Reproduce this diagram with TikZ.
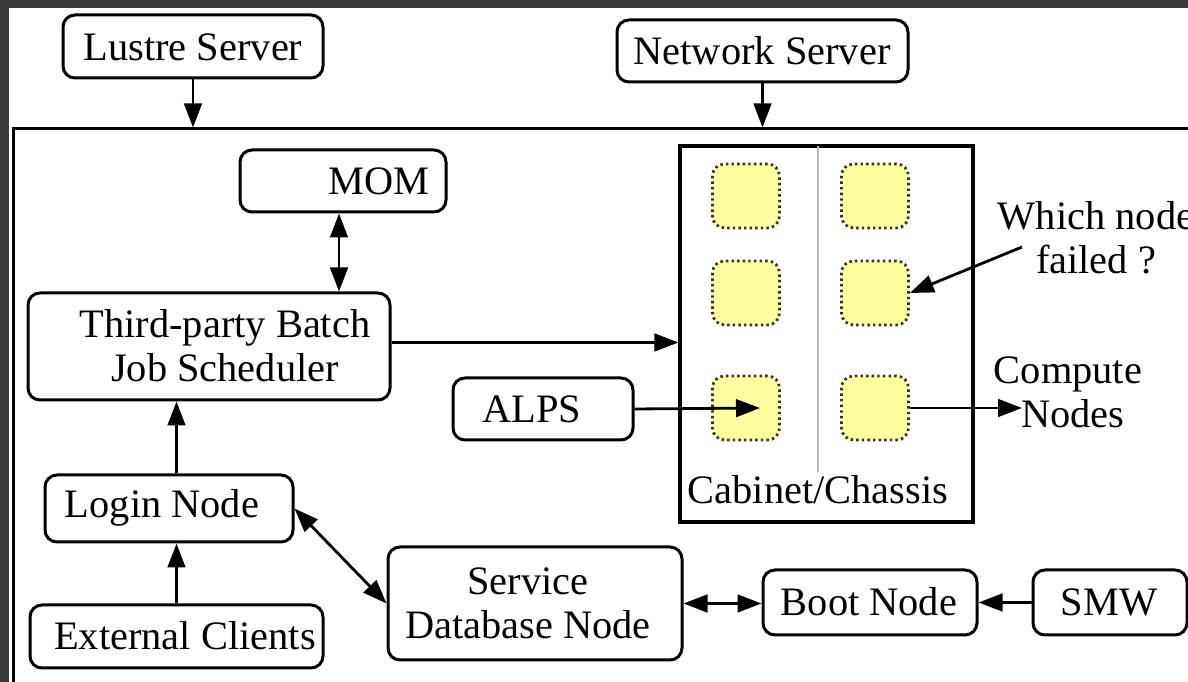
\documentclass[tikz,border=0pt]{standalone}
\usepackage{fontspec}
\setmainfont{Liberation Serif}
\usetikzlibrary{arrows.meta,fit}
\definecolor{darkbg}{RGB}{58,58,58}
\definecolor{sqfill}{RGB}{255,255,160}
\definecolor{sqline}{RGB}{50,50,30}
\definecolor{divline}{RGB}{185,185,185}
\begin{document}
\begin{tikzpicture}[x=0.25pt,y=-0.25pt,
  every node/.style={font=\fontsize{10.1}{11}\selectfont},
  box/.style={draw, line width=0.75pt, rounded corners=3pt, inner sep=0pt},
  plainbox/.style={draw, line width=0.75pt, inner sep=0pt},
  txt/.style={inner sep=0pt, align=center},
  sq/.style={draw=sqline, fill=sqfill, line width=0.7pt, dash pattern=on 0.6pt off 0.8pt,
    rounded corners=3pt, minimum width=16.75pt, minimum height=16pt, inner sep=0pt},
  arr/.style={line width=0.7pt, -{Triangle[length=6pt,width=4.4pt]}},
  darr/.style={line width=0.7pt, {Triangle[length=6pt,width=4.4pt]}-{Triangle[length=6pt,width=4.4pt]}}]
\useasboundingbox (0,0) rectangle (1188,682);
\clip (0,0) rectangle (1188,682);
\fill[darkbg] (0,0) rectangle (1188,682);
\fill[white] (9,8) rectangle (1188,682);
% outer frame
\node[plainbox, fit={(13,129) (1215,710)}] (frame) {};
% top servers
\node[box, fit={(63,15) (323,78)}] (lustre) {};
\node[txt] at (193,47) {Lustre Server};
\node[box, fit={(617,20) (908,82)}] (network) {};
\node[txt] at (762,51) {Network Server};
% left column
\node[box, fit={(240,150) (446,212)}] (mom) {};
\node[txt] at (379,181) {MOM};
\node[box, fit={(28,293) (390,400)}] (sched) {};
\node[txt] at (225,346) {Third-party Batch\\Job Scheduler};
\node[box, fit={(45,475) (293,542)}] (login) {};
\node[txt] at (162,508) {Login Node};
\node[box, fit={(30,605) (323,668)}] (ext) {};
\node[txt] at (185,636) {External Clients};
% bottom row
\node[box, fit={(388,547) (682,660)}] (service) {};
\node[txt] at (528,603) {Service\\Database Node};
\node[box, fit={(763,570) (977,635)}] (boot) {};
\node[txt] at (869,602) {Boot Node};
\node[box, fit={(1033,570) (1187,635)}] (smw) {};
\node[txt] at (1109,602) {SMW};
% ALPS
\node[box, fit={(453,378) (633,440)}] (alps) {};
\node[txt] at (532,409) {ALPS};
% cabinet
\node[plainbox, line width=0.8pt, fit={(680,146) (973,522)}] (cab) {};
\draw[divline, line width=0.35pt] (818,146) -- (818,472);
\node[txt] at (818,490) {Cabinet/Chassis};
\node[sq] (s11) at (746,196) {};
\node[sq] (s12) at (875,196) {};
\node[sq] (s21) at (746,293) {};
\node[sq] (s22) at (875,293) {};
\node[sq] (s31) at (746,408) {};
\node[sq] (s32) at (875,408) {};
% labels on the right
\node[txt] (which) at (1096,238) {Which node\\failed ?};
\node[txt] (compute) at (1068,392) {Compute\\\hspace*{2.5pt}Nodes};
\coordinate (whichstart) at (1022,247);
\coordinate (cnend) at (1022,408);
% connectors
\draw[arr] (lustre.south) -- (lustre.south |- frame.north);
\draw[arr] (network.south) -- (network.south |- frame.north);
\draw[darr] ([xshift=-1pt]mom.south) -- ([xshift=-1pt]mom.south |- sched.north);
\draw[arr] ([yshift=1pt]sched.east) -- ([yshift=1pt]sched.east -| cab.west);
\draw[arr] (ext.north) -- (ext.north |- login.south);
\draw[arr] (ext.north |- login.north) -- (ext.north |- sched.south);
\draw[darr] (login.east) -- (service.west);
\draw[darr] (service.east) -- (service.east -| boot.west);
\draw[arr] (smw.west) -- (smw.west -| boot.east);
\draw[arr] (alps.east) -- ([xshift=3.5pt]s31.center);
\draw[arr] (s32.east) -- (cnend);
\draw[arr] (whichstart) -- (s22.east);
\end{tikzpicture}
\end{document}
